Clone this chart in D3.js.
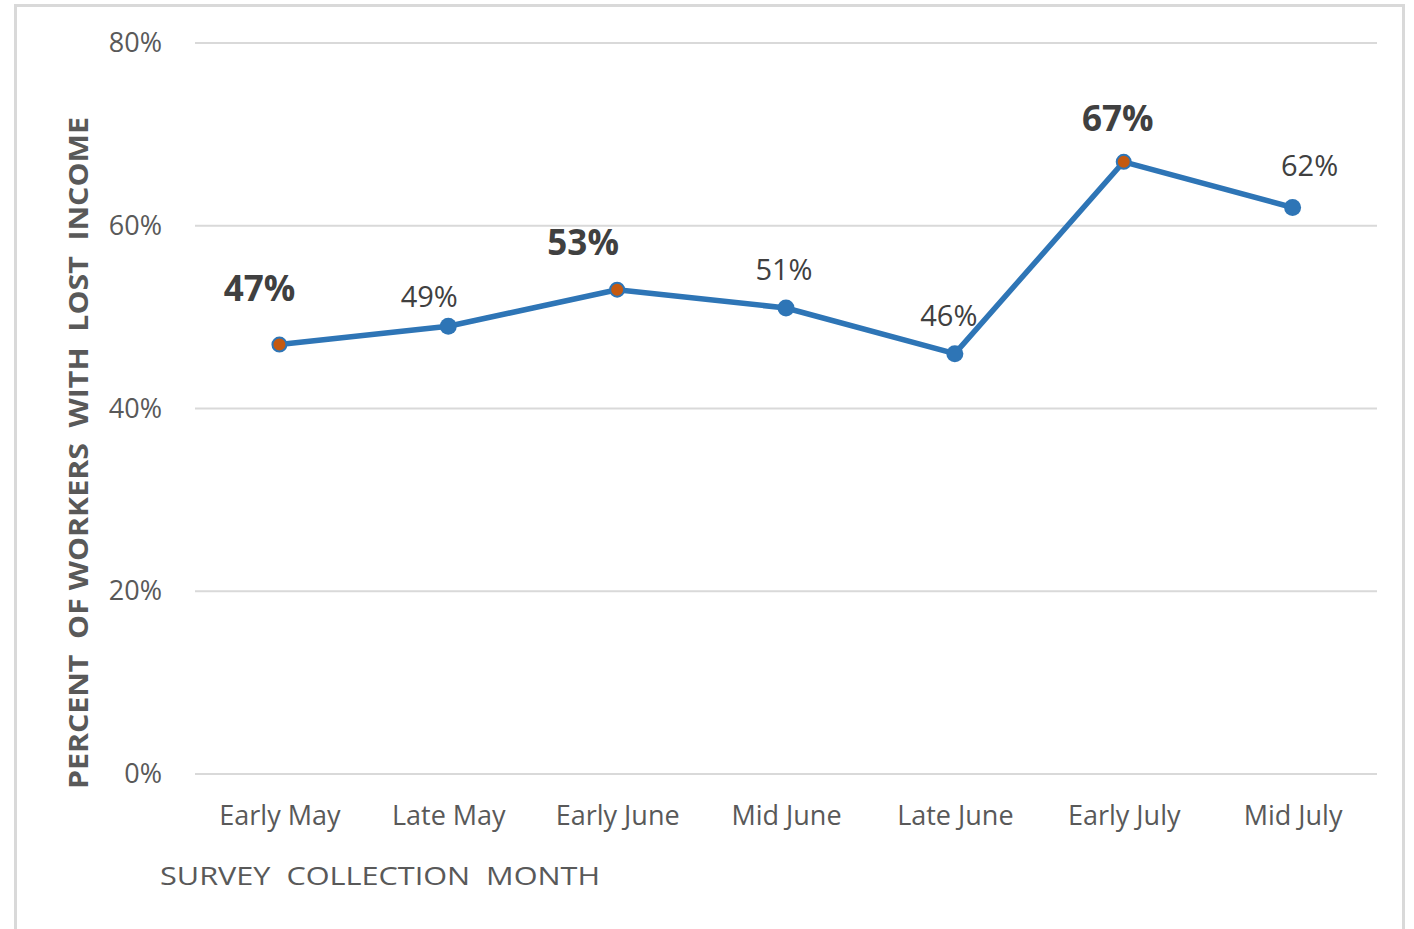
<!DOCTYPE html>
<html>
<head>
<meta charset="utf-8">
<script src="https://cdn.jsdelivr.net/npm/d3@7"></script>
<style>
  body { margin: 0; background: #fff; }
  #chart-container { width: 1414px; height: 929px; }
  .grid-line { stroke: #d9d9d9; stroke-width: 2; }
  .tick-label { fill: #595959; font-family: "Open Sans", "Noto Sans", sans-serif; font-size: 27px; }
</style>
</head>
<body>
<div id="chart-container"></div>
<script>
  // Survey periods and share of workers with lost income (%)
  var periods = ['Early May', 'Late May', 'Early June', 'Mid June', 'Late June', 'Early July', 'Mid July'];
  var lostIncome = [47, 49, 53, 51, 46, 67, 62];
  var highlighted = [true, false, true, false, false, true, false];
  var yTicks = [0, 20, 40, 60, 80];

  // label nudges (layout only)
  var labelDx = [-20, -19, -34, -2, -6, -6, 17];
  var labelDy = [-44, -19, -35, -28, -28, -31, -31];

  var lineColor = '#2e75b6';
  var accent = '#c55a11';

  var W = 1414, H = 929;
  var margin = { top: 43, right: 37, bottom: 155, left: 195 };
  var width = W - margin.left - margin.right;
  var height = H - margin.top - margin.bottom;

  var root = d3.select("#chart-container")
    .append("svg")
    .attr("width", W)
    .attr("height", H);

  // outer frame
  root.append("path")
    .attr("d", "M15.5,940 V5.5 H1403.5 V940")
    .attr("fill", "none")
    .attr("stroke", "#d9d9d9")
    .attr("stroke-width", 3);

  var svg = root.append("g")
    .attr("transform", "translate(" + margin.left + "," + margin.top + ")");

  var xScale = d3.scalePoint()
    .domain(periods)
    .range([0, width])
    .padding(0.5);

  var yScale = d3.scaleLinear()
    .domain([0, 80])
    .range([height, 0]);

  svg.selectAll(".grid-line")
    .data(yTicks)
    .enter()
    .append("line")
    .attr("class", "grid-line")
    .attr("x1", 0)
    .attr("x2", width)
    .attr("y1", d => yScale(d))
    .attr("y2", d => yScale(d));

  // y axis labels
  var yAxis = d3.axisLeft(yScale).tickValues(yTicks).tickFormat(d => d + "%").tickSize(0).tickPadding(33);
  var yg = svg.append("g").call(yAxis);
  yg.select(".domain").remove();
  yg.selectAll("text").attr("class", "tick-label").attr("dy", "0.32em");

  // x axis labels
  var xAxis = d3.axisBottom(xScale).tickSize(0).tickPadding(32);
  var xg = svg.append("g").attr("transform", "translate(0," + height + ")").call(xAxis);
  xg.select(".domain").remove();
  xg.selectAll("text").attr("class", "tick-label").attr("font-size", 28.5).attr("dy", "0.71em");

  // axis titles
  root.append("text")
    .attr("transform", "translate(88,453) rotate(-90)")
    .attr("text-anchor", "middle")
    .attr("fill", "#595959")
    .attr("font-family", "'Open Sans', sans-serif")
    .attr("font-weight", "bold")
    .attr("font-size", 26)
    .attr("textLength", 672)
    .attr("lengthAdjust", "spacingAndGlyphs")
    .attr("xml:space", "preserve")
    .text("PERCENT  OF WORKERS  WITH  LOST  INCOME");

  root.append("text")
    .attr("x", 160)
    .attr("y", 885)
    .attr("fill", "#595959")
    .attr("font-family", "'Open Sans', sans-serif")
    .attr("font-size", 26)
    .attr("textLength", 440)
    .attr("lengthAdjust", "spacingAndGlyphs")
    .attr("xml:space", "preserve")
    .text("SURVEY  COLLECTION  MONTH");

  var line = d3.line()
    .x((d, i) => xScale(periods[i]))
    .y(d => yScale(d));

  svg.append("path")
    .datum(lostIncome)
    .attr("fill", "none")
    .attr("stroke", lineColor)
    .attr("stroke-width", 5.5)
    .attr("stroke-linejoin", "round")
    .attr("d", line);

  svg.selectAll("circle.pt")
    .data(lostIncome)
    .enter()
    .append("circle")
    .attr("class", "pt")
    .attr("cx", (d, i) => xScale(periods[i]))
    .attr("cy", d => yScale(d))
    .attr("r", (d, i) => highlighted[i] ? 7 : 8.5)
    .attr("fill", (d, i) => highlighted[i] ? accent : lineColor)
    .attr("stroke", lineColor)
    .attr("stroke-width", (d, i) => highlighted[i] ? 2 : 0);

  svg.selectAll("text.val")
    .data(lostIncome)
    .enter()
    .append("text")
    .attr("class", "val")
    .attr("x", (d, i) => xScale(periods[i]) + labelDx[i])
    .attr("y", (d, i) => yScale(d) + labelDy[i])
    .attr("text-anchor", "middle")
    .attr("fill", "#404040")
    .attr("font-family", "'Open Sans', sans-serif")
    .attr("font-weight", (d, i) => highlighted[i] ? "bold" : "normal")
    .attr("font-size", (d, i) => highlighted[i] ? 35 : 29)
    .text(d => d + "%");
</script>
</body>
</html>
